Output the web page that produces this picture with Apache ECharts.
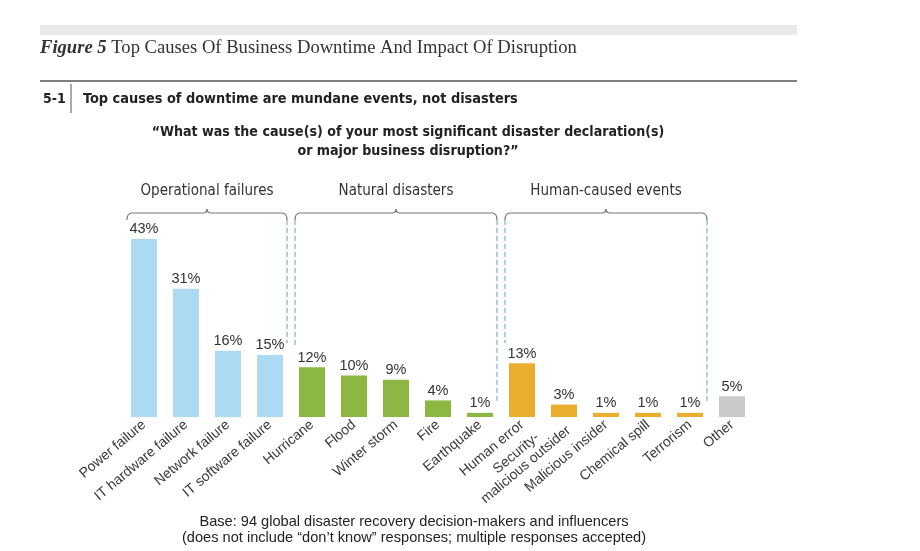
<!DOCTYPE html>
<html><head><meta charset="utf-8">
<script src="https://cdn.jsdelivr.net/npm/echarts@6/dist/echarts.min.js"></script>
<style>html,body{margin:0;padding:0;background:#fff}#c{width:920px;height:551px}</style>
</head><body><div id="c"></div>
<script>
const categories = ['Power failure','IT hardware failure','Network failure','IT software failure','Hurricane','Flood','Winter storm','Fire','Earthquake','Human error','Security-\nmalicious outsider','Malicious insider','Chemical spill','Terrorism','Other'];
const values = [43,31,16,15,12,10,9,4,1,13,3,1,1,1,5];
const groupOf = ['op','op','op','op','nat','nat','nat','nat','nat','hum','hum','hum','hum','hum','other'];
const groupColors = {op:'#ADDAF3', nat:'#8DB743', hum:'#EAAE2F', other:'#C9C9C9'};
const groupTitles = ['Operational failures','Natural disasters','Human-caused events'];
const groupFrom = [0,4,9];
const groupTo = [3,8,13];
const dashLeft = [false,true,true];
const dashRight = [true,true,true];

const NARROW = "'Liberation Sans Narrow','DejaVu Sans Condensed','Liberation Sans',Arial,sans-serif";
const SANS = "'Liberation Sans',Arial,sans-serif";
const SERIF = "'Liberation Serif','Times New Roman',serif";

const chart = echarts.init(document.getElementById('c'), null, {renderer:'canvas'});
chart.setOption({
  backgroundColor:'#fff',
  animation:false,
  grid:{left:123, width:630, top:210, height:207},
  xAxis:{type:'category', data:categories,
    axisLine:{show:false}, axisTick:{show:false},
    axisLabel:{interval:0, rotate:40, margin:6, color:'#3a3a3a', fontFamily:SANS, fontSize:14,
      formatter:function(v){return v.split('\n').map(function(s){return '{a|'+s+'}';}).join('\n');},
      rich:{a:{align:'center', fontFamily:SANS, fontSize:14, color:'#3a3a3a', lineHeight:15}}}},
  yAxis:{type:'value', min:0, max:50, show:false, splitLine:{show:false}},
  series:[{type:'bar', barWidth:26,
    data: values.map(function(v,i){return {value:v, itemStyle:{color:groupColors[groupOf[i]]}};}),
    label:{show:true, position:'top', distance:2, formatter:'{c}%', color:'#333', fontFamily:SANS, fontSize:14.5}}]
});

const g = [];
// header
g.push({type:'rect', shape:{x:40,y:25,width:757,height:10}, style:{fill:'#e9e9e9'}, silent:true});
g.push({type:'text', x:40, y:48, style:{text:'{b|Figure 5} Top Causes Of Business Downtime And Impact Of Disruption',
  rich:{b:{fontFamily:SERIF, fontStyle:'italic', fontWeight:'bold', fontSize:18.6, fill:'#333'}},
  font:"18.6px "+SERIF, fill:'#333', verticalAlign:'middle'}});
g.push({type:'line', shape:{x1:40,y1:81,x2:797,y2:81}, style:{stroke:'#555', lineWidth:1.5}});
g.push({type:'text', x:43, y:99, style:{text:'5-1', font:"bold 14px "+NARROW, fill:'#222', verticalAlign:'middle'}});
g.push({type:'line', shape:{x1:71,y1:84,x2:71,y2:113}, style:{stroke:'#555', lineWidth:1}});
g.push({type:'text', x:83, y:99, style:{text:'Top causes of downtime are mundane events, not disasters', font:"bold 14.4px "+NARROW, fill:'#222', verticalAlign:'middle'}});
g.push({type:'text', x:408, y:142, style:{text:'\u201cWhat was the cause(s) of your most significant disaster declaration(s)\nor major business disruption?\u201d', font:"bold 14.1px "+NARROW, fill:'#222', align:'center', verticalAlign:'middle', lineHeight:19}});
g.push({type:'text', x:414, y:530, style:{text:'Base: 94 global disaster recovery decision-makers and influencers\n(does not include \u201cdon\u2019t know\u201d responses; multiple responses accepted)', font:"14.6px "+SANS, fill:'#222', align:'center', verticalAlign:'middle', lineHeight:16}});

// brackets
const cx = categories.map(function(c,i){return chart.convertToPixel({xAxisIndex:0}, i);});
const half = (cx[1]-cx[0])/2;
const y0 = 213;
const BR = {stroke:'#777', lineWidth:1.2, fill:null};
for (let k=0;k<groupTitles.length;k++){
  const x1 = cx[groupFrom[k]]-half+4, x2 = cx[groupTo[k]]+half-4, xc=(x1+x2)/2;
  g.push({type:'bezierCurve', shape:{x1:x1,y1:y0+7,x2:x1+5,y2:y0,cpx1:x1,cpy1:y0}, style:BR});
  g.push({type:'line', shape:{x1:x1+5,y1:y0,x2:xc-4,y2:y0}, style:BR});
  g.push({type:'bezierCurve', shape:{x1:xc-4,y1:y0,x2:xc,y2:y0-4,cpx1:xc,cpy1:y0}, style:BR});
  g.push({type:'bezierCurve', shape:{x1:xc,y1:y0-4,x2:xc+4,y2:y0,cpx1:xc,cpy1:y0}, style:BR});
  g.push({type:'line', shape:{x1:xc+4,y1:y0,x2:x2-5,y2:y0}, style:BR});
  g.push({type:'bezierCurve', shape:{x1:x2-5,y1:y0,x2:x2,y2:y0+7,cpx1:x2,cpy1:y0}, style:BR});
  g.push({type:'text', x:xc, y:191, style:{text:groupTitles[k], font:"15px "+NARROW, fill:'#333', align:'center', verticalAlign:'middle'}});
  if (dashLeft[k]) {
    const ye = chart.convertToPixel({yAxisIndex:0}, values[groupFrom[k]]) - 20;
    g.push({type:'line', shape:{x1:x1,y1:y0+7,x2:x1,y2:ye}, style:{stroke:'#5B9BD5', lineWidth:1, lineDash:[5,3]}});
  }
  if (dashRight[k]) {
    const ye = chart.convertToPixel({yAxisIndex:0}, values[groupTo[k]]) - 12;
    g.push({type:'line', shape:{x1:x2,y1:y0+7,x2:x2,y2:ye}, style:{stroke:'#5B9BD5', lineWidth:1, lineDash:[5,3]}});
  }
}
chart.setOption({graphic:g});
</script></body></html>
